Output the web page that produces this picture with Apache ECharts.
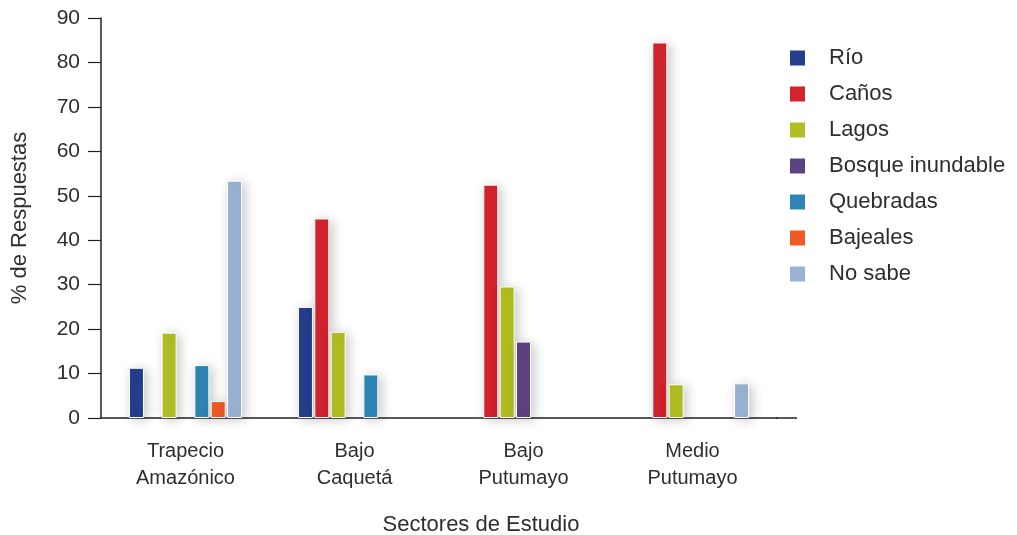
<!DOCTYPE html>
<html>
<head>
<meta charset="utf-8">
<script src="https://cdn.jsdelivr.net/npm/echarts@6/dist/echarts.min.js"></script>
<style>
  html, body { margin: 0; padding: 0; background: #fff; }
  #main { width: 1017px; height: 535px; }
</style>
</head>
<body>
<div id="main"></div>
<script>
var sectores = ['Trapecio\nAmazónico', 'Bajo\nCaquetá', 'Bajo\nPutumayo', 'Medio\nPutumayo'];
var rio = [11.3, 25.0, null, null];
var canos = [null, 44.9, 52.5, 84.5];
var lagos = [19.2, 19.4, 29.6, 7.6];
var bosque = [null, null, 17.2, null];
var quebradas = [11.9, 9.8, null, null];
var bajeales = [3.8, null, null, null];
var noSabe = [53.4, null, null, 7.8];

var font = 'Liberation Sans';
var txt = '#2e2e2e';

function bar(name, data, color) {
  return {
    name: name,
    type: 'bar',
    data: data,
    barWidth: 15,
    barGap: '9%',
    itemStyle: {
      color: color,
      borderColor: '#fff',
      borderWidth: 1,
      shadowBlur: 12,
      shadowColor: 'rgba(0,0,0,0.22)',
      shadowOffsetX: 3,
      shadowOffsetY: 2
    }
  };
}

var chart = echarts.init(document.getElementById('main'));
chart.setOption({
  backgroundColor: '#fff',
  animation: false,
  grid: { left: 101, right: 240, top: 18, bottom: 117, outerBoundsMode: 'none' },
  legend: {
    orient: 'vertical',
    left: 783,
    top: 42,
    icon: 'rect',
    itemWidth: 17,
    itemHeight: 17,
    itemGap: 14,
    textStyle: { fontFamily: font, fontSize: 22, color: txt, padding: [0, 0, 0, 18] }
  },
  xAxis: {
    type: 'category',
    data: sectores,
    name: 'Sectores de Estudio',
    nameLocation: 'middle',
    nameGap: 96,
    nameTextStyle: { fontFamily: font, fontSize: 22, color: txt, padding: [0, 0, 0, 84] },
    axisLine: { lineStyle: { color: '#222', width: 1.5 } },
    axisTick: { show: false },
    axisLabel: { fontFamily: font, fontSize: 20, color: txt, margin: 20, lineHeight: 27 },
    splitLine: { show: false }
  },
  yAxis: {
    type: 'value',
    min: 0,
    max: 90,
    interval: 10,
    name: '% de Respuestas',
    nameLocation: 'middle',
    nameGap: 70,
    nameTextStyle: { fontFamily: font, fontSize: 22, color: txt },
    axisLine: { show: true, lineStyle: { color: '#222', width: 1.5 } },
    axisTick: { show: true, length: 13, lineStyle: { color: '#222', width: 1.2 } },
    axisLabel: { fontFamily: font, fontSize: 21, color: txt, margin: 21 },
    splitLine: { show: false }
  },
  graphic: [{
    type: 'line',
    shape: { x1: 776, y1: 418, x2: 797, y2: 418 },
    style: { stroke: '#222', lineWidth: 1.5 }
  }],
  series: [
    bar('Río', rio, '#233f8e'),
    bar('Caños', canos, '#d3232d'),
    bar('Lagos', lagos, '#b1bf22'),
    bar('Bosque inundable', bosque, '#5e4381'),
    bar('Quebradas', quebradas, '#2f86b6'),
    bar('Bajeales', bajeales, '#f05a24'),
    bar('No sabe', noSabe, '#9ab3d4')
  ]
});
</script>
</body>
</html>
